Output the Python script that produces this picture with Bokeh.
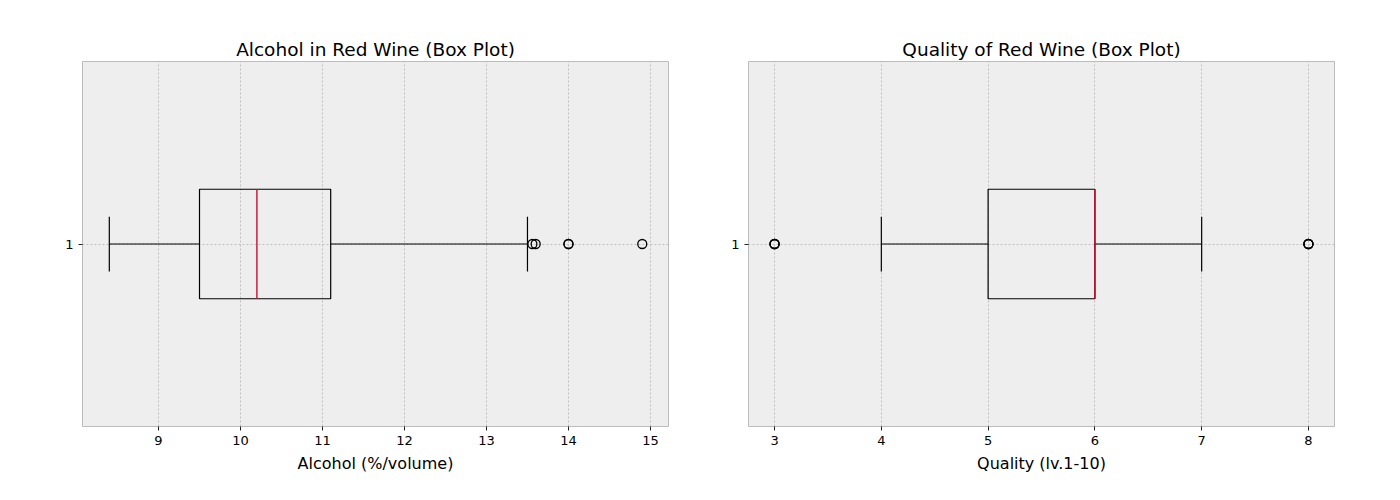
from bokeh.plotting import figure
from bokeh.layouts import row
from bokeh.models import FixedTicker, Range1d
from bokeh.embed import file_html
from bokeh.resources import INLINE

# Alcohol box stats: whisker_low, q1, median, q3, whisker_high
alcohol_stats = [8.4, 9.5, 10.2, 11.1, 13.5]
alcohol_outliers = [13.56, 13.6, 14.0, 14.0, 14.9]
# Quality box stats
quality_stats = [4, 5, 6, 6, 7]
quality_outliers = [3, 3, 3, 8, 8, 8]

FONT = "DejaVu Sans"

def box_fig(title, xlabel, stats, outliers, xr, xticks, bl, br):
    p = figure(output_backend="svg", toolbar_location=None,
               frame_width=586, frame_height=365,
               min_border_left=bl, min_border_right=br, min_border_top=61, min_border_bottom=56,
               x_range=Range1d(*xr), y_range=Range1d(0.5, 1.5), title=title)
    p.title.align = "center"
    p.title.text_font = FONT
    p.title.text_font_size = "18.5px"
    p.title.text_font_style = "normal"
    p.title.text_color = "black"
    p.title.standoff = 4
    p.background_fill_color = "#eeeeee"
    p.border_fill_color = "white"
    p.outline_line_color = "#bcbcbc"
    p.outline_line_width = 1
    for ax in (p.xaxis[0], p.yaxis[0]):
        ax.axis_line_color = None
        ax.major_tick_line_color = "#222222"
        ax.major_tick_in = 0
        ax.major_tick_out = 4
        ax.minor_tick_line_color = None
        ax.major_label_text_font = FONT
        ax.major_label_text_font_size = "13px"
        ax.major_label_text_color = "black"
    p.xaxis.ticker = FixedTicker(ticks=xticks)
    p.yaxis.ticker = FixedTicker(ticks=[1])
    p.xaxis.axis_label = xlabel
    p.xaxis.axis_label_text_font = FONT
    p.xaxis.axis_label_text_font_size = "16px"
    p.xaxis.axis_label_text_font_style = "normal"
    p.xaxis.axis_label_text_color = "black"
    p.xaxis.axis_label_standoff = 6
    p.grid.grid_line_color = "#b2b2b2"
    p.grid.grid_line_dash = "2 2"
    p.grid.grid_line_width = 0.8
    wl, q1, med, q3, wh = stats
    p.quad(left=[q1], right=[q3], bottom=[0.85], top=[1.15], fill_color=None, line_color="black", line_width=1.2)
    p.segment(x0=[wl, q3], y0=[1, 1], x1=[q1, wh], y1=[1, 1], line_color="black", line_width=1.2)
    p.segment(x0=[wl, wh], y0=[0.925, 0.925], x1=[wl, wh], y1=[1.075, 1.075], line_color="black", line_width=1.2)
    p.segment(x0=[med], y0=[0.85], x1=[med], y1=[1.15], line_color="#c8102e", line_width=1.4)
    p.scatter(x=outliers, y=[1] * len(outliers), marker="circle", size=9,
              fill_color=None, line_color="black", line_width=1.3)
    return p

p1 = box_fig("Alcohol in Red Wine (Box Plot)", "Alcohol (%/volume)", alcohol_stats, alcohol_outliers,
             (8.073, 15.22), [9, 10, 11, 12, 13, 14, 15], 82, 32)
p2 = box_fig("Quality of Red Wine (Box Plot)", "Quality (lv.1-10)", quality_stats, quality_outliers,
             (2.756, 8.244), [3, 4, 5, 6, 7, 8], 48, 44)

layout = row(p1, p2)
open("out.html", "w").write(file_html(layout, INLINE))
